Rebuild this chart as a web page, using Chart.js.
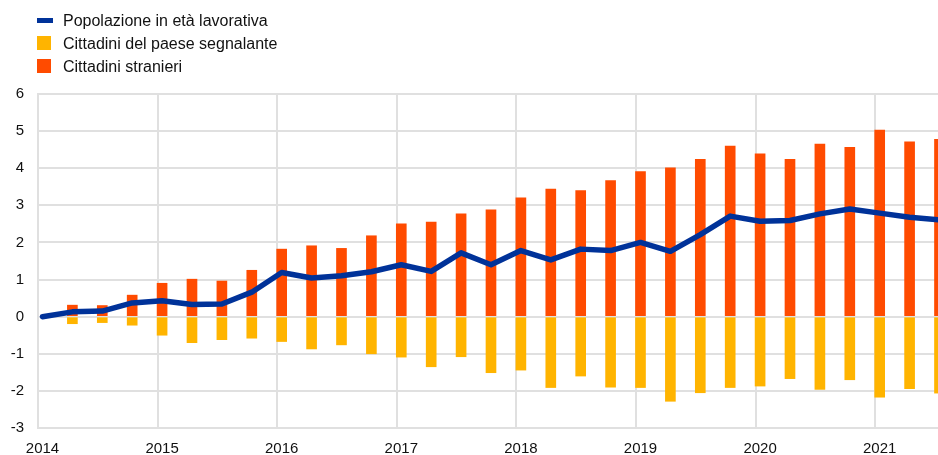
<!DOCTYPE html>
<html lang="it">
<head>
<meta charset="utf-8">
<title>Popolazione in età lavorativa</title>
<script src="https://cdn.jsdelivr.net/npm/chart.js@4/dist/chart.umd.min.js"></script>
<style>
  html, body { margin: 0; padding: 0; background: #fff; }
  #wrap { position: relative; width: 938px; height: 455px; }
  #legend {
    position: absolute; left: 37px; top: 9px;
    font-family: "Liberation Sans", Arial, sans-serif; font-size: 16px; color: #111;
  }
  .item { position: relative; height: 23px; line-height: 23px; padding-left: 26px; white-space: nowrap; }
  .swatch { position: absolute; left: 0; }
</style>
</head>
<body>
<div id="wrap">
  <canvas id="chart" width="938" height="455"></canvas>
  <div id="legend"></div>
</div>
<script>
// trimestri dal 2014 T1 (indice 0) al 2021 T3 (indice 30)
const firstYear = 2014;
const quarters = Array.from({ length: 31 }, (_, i) => i);

// variazione rispetto al 2014 T1, milioni di persone
const workingAge = [0.00, 0.13, 0.15, 0.37, 0.43, 0.33, 0.34, 0.66, 1.19, 1.04,
                    1.10, 1.21, 1.40, 1.22, 1.72, 1.40, 1.78, 1.53, 1.82, 1.78,
                    2.00, 1.76, 2.21, 2.71, 2.57, 2.59, 2.77, 2.90, 2.79, 2.68, 2.61];
const nationals = [null, -0.19, -0.16, -0.23, -0.50, -0.70, -0.62, -0.58, -0.67, -0.87,
                   -0.76, -1.00, -1.09, -1.35, -1.08, -1.51, -1.44, -1.91, -1.60, -1.90,
                   -1.91, -2.28, -2.05, -1.91, -1.87, -1.67, -1.96, -1.70, -2.17, -1.94, -2.06];
const foreigners = [null, 0.31, 0.30, 0.58, 0.90, 1.01, 0.96, 1.25, 1.82, 1.91,
                    1.84, 2.18, 2.50, 2.55, 2.77, 2.88, 3.20, 3.44, 3.40, 3.67,
                    3.91, 4.01, 4.24, 4.60, 4.39, 4.24, 4.65, 4.56, 5.03, 4.71, 4.78];
const yearTicks = [2014, 2015, 2016, 2017, 2018, 2019, 2020, 2021];
const yTicks = [-3, -2, -1, 0, 1, 2, 3, 4, 5, 6];

const BLUE = '#003299';
const YELLOW = '#ffb400';
const ORANGE = '#ff4b00';
const GRID = '#e0e0e0';

// le linee della griglia cadono poco prima del primo trimestre di ogni anno
const gridShift = 0.15;

function toPoints(values) {
  return quarters.map(i => ({ x: i, y: values[i] }));
}

const datasets = [
  {
    type: 'line',
    label: 'Popolazione in età lavorativa',
    data: toPoints(workingAge),
    borderColor: BLUE,
    backgroundColor: BLUE,
    borderWidth: 5.5,
    borderCapStyle: 'round',
    borderJoinStyle: 'round',
    pointRadius: 0,
    tension: 0,
    stack: 'line',
    order: 0,
    clip: 0
  },
  {
    type: 'bar',
    label: 'Cittadini del paese segnalante',
    data: toPoints(nationals),
    backgroundColor: YELLOW,
    barThickness: 10,
    stack: 'bars',
    order: 1,
    clip: 0
  },
  {
    type: 'bar',
    label: 'Cittadini stranieri',
    data: toPoints(foreigners),
    backgroundColor: ORANGE,
    barThickness: 10,
    stack: 'bars',
    order: 1,
    clip: 0
  }
];

// legenda in colonna, in alto a sinistra
const legendEl = document.getElementById('legend');
datasets.forEach(ds => {
  const item = document.createElement('div');
  item.className = 'item';
  const sw = document.createElement('span');
  sw.className = 'swatch';
  if (ds.type === 'line') {
    sw.style.cssText = 'left:0;top:9px;width:16px;height:5px;background:' + ds.borderColor;
  } else {
    sw.style.cssText = 'left:0;top:4px;width:14px;height:14px;background:' + ds.backgroundColor;
  }
  item.appendChild(sw);
  item.appendChild(document.createTextNode(ds.label));
  legendEl.appendChild(item);
});

const tickFont = { family: '"Liberation Sans", Arial, sans-serif', size: 15 };

new Chart(document.getElementById('chart').getContext('2d'), {
  type: 'bar',
  data: { datasets: datasets },
  options: {
    responsive: false,
    animation: false,
    layout: { padding: { top: 94, right: 0, bottom: 0, left: 0 } },
    plugins: {
      legend: { display: false },
      tooltip: { enabled: false }
    },
    scales: {
      x: {
        type: 'linear',
        min: -gridShift,
        max: 29.95,
        offset: false,
        stacked: true,
        afterBuildTicks: scale => {
          scale.ticks = yearTicks.map(y => ({ value: (y - firstYear) * 4 - gridShift }));
        },
        afterFit: scale => { scale.height = 27; },
        grid: { color: GRID, lineWidth: 2, drawTicks: false, offset: false },
        border: { color: GRID, width: 2 },
        ticks: {
          font: tickFont,
          color: '#111',
          padding: 12,
          labelOffset: 4.5,
          maxRotation: 0,
          autoSkip: false,
          callback: value => String(firstYear + Math.round((value + gridShift) / 4))
        }
      },
      y: {
        stacked: true,
        min: -3,
        max: 6,
        afterBuildTicks: scale => {
          scale.ticks = yTicks.map(v => ({ value: v }));
        },
        afterFit: scale => { scale.width = 38; },
        grid: { color: GRID, lineWidth: 2, drawTicks: false },
        border: { color: GRID, width: 2 },
        ticks: {
          font: tickFont,
          color: '#111',
          padding: 14
        }
      }
    }
  }
});
</script>
</body>
</html>
